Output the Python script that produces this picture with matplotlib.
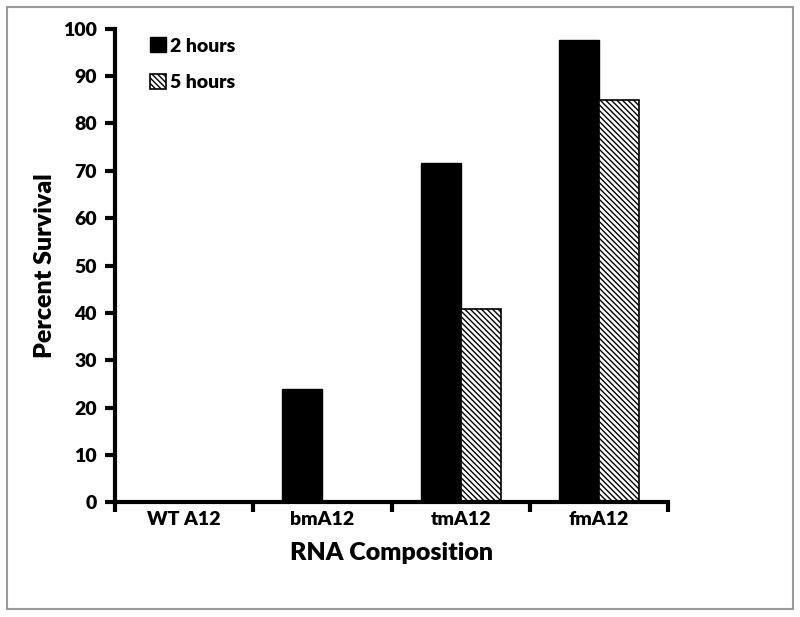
import matplotlib.pyplot as plt
from matplotlib.patches import Rectangle
import numpy as np

plt.rcParams['font.family'] = ['Lato', 'DejaVu Sans']
plt.rcParams['font.weight'] = 'heavy'
plt.rcParams['hatch.linewidth'] = 1.0

categories = ['WT A12', 'bmA12', 'tmA12', 'fmA12']
hours2 = [0, 23.9, 71.6, 97.5]
hours5 = [0, 0, 40.8, 85.0]
series_names = ['2 hours', '5 hours']

fig = plt.figure(figsize=(8, 6.17), dpi=100)
ax = fig.add_axes([0.14375, 0.1856, 0.69125, 0.768])

x = np.arange(len(categories))
w = 0.29
ax.bar(x - w/2, hours2, w, color='black', edgecolor='black', label=series_names[0])
ax.bar(x + w/2, hours5, w, color='white', edgecolor='black', linewidth=1.2,
       hatch='\\\\\\\\\\\\', label=series_names[1])

ax.set_xlim(-0.5, 3.5)
ax.set_ylim(0, 100)
ax.set_yticks(np.arange(0, 101, 10))
ax.set_xticks(np.arange(-0.5, 3.6, 1))
ax.set_xticklabels([])
ax.set_xticks(x, minor=True)
ax.set_xticklabels(categories, minor=True)
ax.tick_params(axis='x', which='minor', length=0, pad=6, labelsize=14)
ax.tick_params(axis='both', which='major', direction='out', length=7, width=3, labelsize=14)
ax.tick_params(axis='y', pad=6)

for s in ['top', 'right']:
    ax.spines[s].set_visible(False)
for s in ['left', 'bottom']:
    ax.spines[s].set_linewidth(3)

ax.set_ylabel('Percent Survival', fontsize=18, fontweight='heavy', labelpad=5)
ax.set_xlabel('RNA Composition', fontsize=18, fontweight='heavy', labelpad=10)

ax.legend(loc='upper left', bbox_to_anchor=(0.178, 0.952), bbox_transform=fig.transFigure,
          frameon=False, fontsize=14, handlelength=0.8, handleheight=0.8,
          handletextpad=0.2, labelspacing=1.0, borderaxespad=0)

fig.patches.append(Rectangle((0.009, 0.013), 0.982, 0.975, transform=fig.transFigure,
                             fill=False, edgecolor='#999999', linewidth=1.5))

fig.savefig('out.png', dpi=100)
